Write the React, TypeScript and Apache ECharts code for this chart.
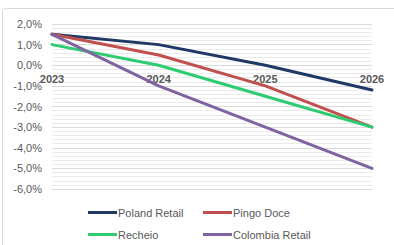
import React, { useEffect, useRef } from "react";
import * as echarts from "echarts";

const categories = ["2023", "2024", "2025", "2026"];
const polandRetail = [1.5, 1.0, 0.0, -1.2];
const pingoDoce = [1.5, 0.5, -1.0, -3.0];
const recheio = [1.0, 0.0, -1.5, -3.0];
const colombiaRetail = [1.5, -1.0, -3.0, -5.0];
const seriesNames = ["Poland Retail", "Pingo Doce", "Recheio", "Colombia Retail"];
const seriesColors = ["#1F3864", "#C0504D", "#2ECC71", "#8064A2"];
const yMin = -6;
const yMax = 2;

const fmt = (v: number) => v.toFixed(1).replace(".", ",") + "%";

export default function App() {
  const ref = useRef<HTMLDivElement>(null);
  useEffect(() => {
    if (!ref.current) return;
    const chart = echarts.init(ref.current, undefined, { renderer: "svg" });
    const data = [polandRetail, pingoDoce, recheio, colombiaRetail];
    const legendPos = [
      { left: 88, top: 207 },
      { left: 203, top: 207 },
      { left: 88, top: 229 },
      { left: 203, top: 229 },
    ];
    const gridTop = 24;
    const gridBottom = 56;
    const gridH = 245 - gridTop - gridBottom;
    const zeroOffset = -(gridH * (0 - yMin)) / (yMax - yMin);
    chart.setOption({
      animation: false,
      backgroundColor: "#ffffff",
      graphic: [
        {
          type: "rect",
          shape: { x: 2.5, y: 8.5, width: 420, height: 260, r: 3 },
          style: { fill: "none", stroke: "#D9D9D9", lineWidth: 1 },
          silent: true,
        },
      ],
      grid: { left: 52, right: 22, top: gridTop, bottom: gridBottom },
      legend: seriesNames.map((n, i) => ({
        data: [n],
        left: legendPos[i].left,
        top: legendPos[i].top,
        icon: "rect",
        itemWidth: 29,
        itemHeight: 3,
        padding: 0,
        textStyle: {
          fontFamily: "Liberation Sans, Arial, sans-serif",
          fontSize: 11,
          color: "#595959",
          padding: [0, 0, 0, -4],
        },
      })),
      xAxis: {
        type: "category",
        data: categories,
        boundaryGap: false,
        offset: zeroOffset,
        axisLine: { onZero: false, lineStyle: { color: "#D9D9D9" } },
        axisTick: { show: false },
        axisLabel: {
          fontFamily: "Liberation Sans, Arial, sans-serif",
          fontSize: 11,
          fontWeight: "bold",
          color: "#595959",
          margin: 8,
        },
        splitLine: { show: false },
      },
      yAxis: {
        type: "value",
        min: yMin,
        max: yMax,
        interval: 1,
        axisLine: { show: false },
        axisTick: { show: false },
        axisLabel: {
          formatter: fmt,
          fontFamily: "Liberation Sans, Arial, sans-serif",
          fontSize: 11,
          color: "#595959",
          margin: 10,
        },
        splitLine: { lineStyle: { color: "#D9D9D9", width: 1 } },
        minorTick: { show: false, splitNumber: 5 },
        minorSplitLine: { show: true, lineStyle: { color: "#EBEBEB", width: 1 } },
      },
      series: seriesNames.map((n, i) => ({
        name: n,
        type: "line",
        data: data[i],
        symbol: "none",
        color: seriesColors[i],
        lineStyle: { width: 3, color: seriesColors[i], cap: "round" },
      })),
    });
    return () => chart.dispose();
  }, []);
  return (
    <div
      ref={ref}
      style={{ position: "fixed", left: 0, top: 0, width: 394, height: 245 }}
    />
  );
}
